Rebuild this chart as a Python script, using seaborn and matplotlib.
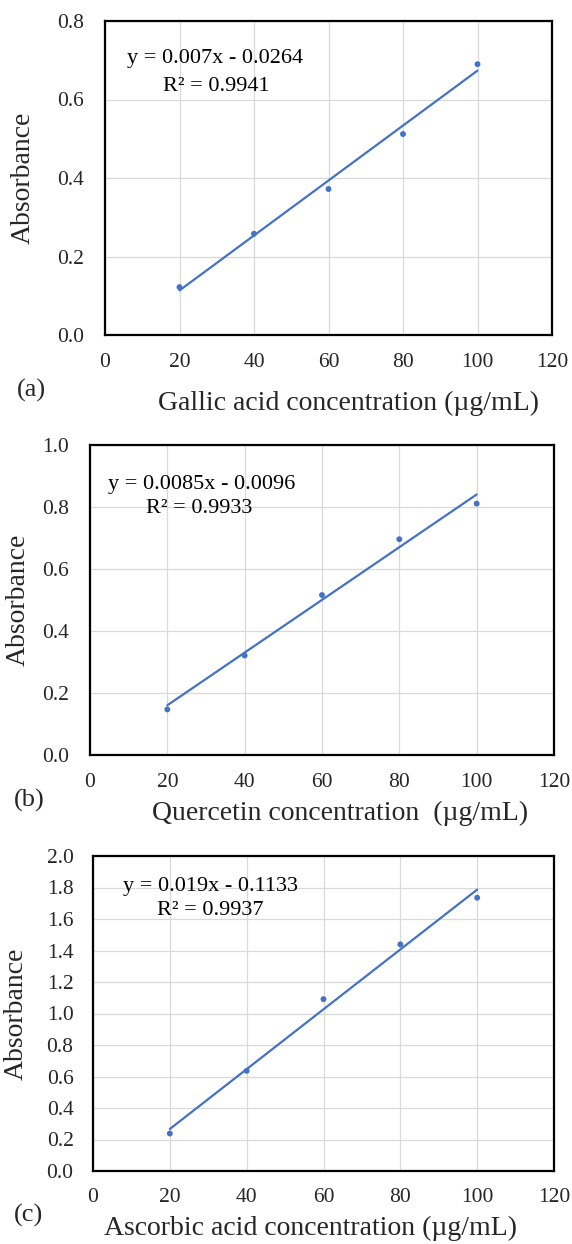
import numpy as np
import pandas as pd
import seaborn as sns
import matplotlib
matplotlib.use("Agg")
import matplotlib.pyplot as plt
from matplotlib.ticker import FormatStrFormatter

# ---- data ----
conc = [20, 40, 60, 80, 100]
gallic_abs = [0.122, 0.258, 0.372, 0.512, 0.690]
quercetin_abs = [0.147, 0.321, 0.516, 0.696, 0.811]
ascorbic_abs = [0.238, 0.636, 1.091, 1.439, 1.735]

gallic_fit = (0.007, -0.0264)
quercetin_fit = (0.0085, -0.0096)
ascorbic_fit = (0.019, -0.1133)

eq_texts = ["y = 0.007x - 0.0264", "y = 0.0085x - 0.0096", "y = 0.019x - 0.1133"]
r2_texts = ["R² = 0.9941", "R² = 0.9933", "R² = 0.9937"]
xlabels = ["Gallic acid concentration (µg/mL)",
           "Quercetin concentration  (µg/mL)",
           "Ascorbic acid concentration (µg/mL)"]
panel_tags = ["(a)", "(b)", "(c)"]
x_ticks = [0, 20, 40, 60, 80, 100, 120]
y_ticks_list = [[0.0, 0.2, 0.4, 0.6, 0.8],
                [0.0, 0.2, 0.4, 0.6, 0.8, 1.0],
                [0.0, 0.2, 0.4, 0.6, 0.8, 1.0, 1.2, 1.4, 1.6, 1.8, 2.0]]

sns.set_style("whitegrid")
plt.rcParams['font.family'] = ['Liberation Serif', 'DejaVu Serif']

W, H = 572, 1244
fig = plt.figure(figsize=(W / 100, H / 100), dpi=100)

# axes boxes in pixel coords: left, top, right, bottom
boxes = [(105, 21, 552, 335), (90, 445, 554, 755), (93, 856, 554, 1171)]
eq_pos = [((0.050, 0.882), (0.130, 0.790)),
          ((0.0385, 0.871), (0.121, 0.794)),
          ((0.0645, 0.9025), (0.138, 0.826))]
tag_pos = [(17, 390), (14, 800), (14, 1215)]
xlabel_pos = [(348, 403), (340, 813), (310, 1228)]
ylabel_x = [23, 18, 16]

series = [gallic_abs, quercetin_abs, ascorbic_abs]
fits = [gallic_fit, quercetin_fit, ascorbic_fit]
blue = "#4472C4"

for i in range(3):
    l, t, r, b = boxes[i]
    ax = fig.add_axes([l / W, 1 - b / H, (r - l) / W, (b - t) / H])
    df = pd.DataFrame({"x": conc, "y": series[i]})
    slope, icpt = fits[i]
    xs = np.array([conc[0], conc[-1]], dtype=float)
    line_df = pd.DataFrame({"x": xs, "y": slope * xs + icpt})
    sns.lineplot(data=line_df, x="x", y="y", ax=ax, color=blue, lw=1.6, zorder=3)
    sns.scatterplot(data=df, x="x", y="y", ax=ax, color=blue, s=18,
                    edgecolor="none", zorder=4)

    yt = y_ticks_list[i]
    ax.set_xlim(0, 120)
    ax.set_ylim(yt[0], yt[-1])
    ax.set_xticks(x_ticks)
    ax.set_yticks(yt)
    ax.yaxis.set_major_formatter(FormatStrFormatter("%.1f"))
    ax.grid(True, color="#D9D9D9", lw=0.9)
    ax.set_axisbelow(True)
    ax.set_xlabel("")
    ax.set_ylabel("")
    for s in ax.spines.values():
        s.set_color("black")
        s.set_linewidth(1.6)
        s.set_visible(True)
    if i == 2:
        ax.tick_params(axis="both", which="major", length=5, width=1.0,
                       color="black", direction="out", labelsize=15.5, pad=7)
        ax.tick_params(axis="y", pad=9)
    else:
        ax.tick_params(axis="both", which="major", length=0, labelsize=15.5, pad=13)
        ax.tick_params(axis="y", pad=15)

    (ex, ey), (rx, ry) = eq_pos[i]
    ax.text(ex, ey, eq_texts[i], transform=ax.transAxes, fontsize=16,
            ha="left", va="center", color="black")
    ax.text(rx, ry, r2_texts[i], transform=ax.transAxes, fontsize=16,
            ha="left", va="center", color="black")

    fig.text(xlabel_pos[i][0] / W, 1 - xlabel_pos[i][1] / H, xlabels[i],
             fontsize=20, ha="center", va="center")
    fig.text(ylabel_x[i] / W, 1 - ((t + b) / 2) / H, "Absorbance",
             fontsize=20, ha="center", va="center", rotation=90)
    fig.text(tag_pos[i][0] / W, 1 - tag_pos[i][1] / H, panel_tags[i],
             fontsize=19, ha="left", va="center")

fig.savefig("out.png", dpi=100, facecolor="white")
